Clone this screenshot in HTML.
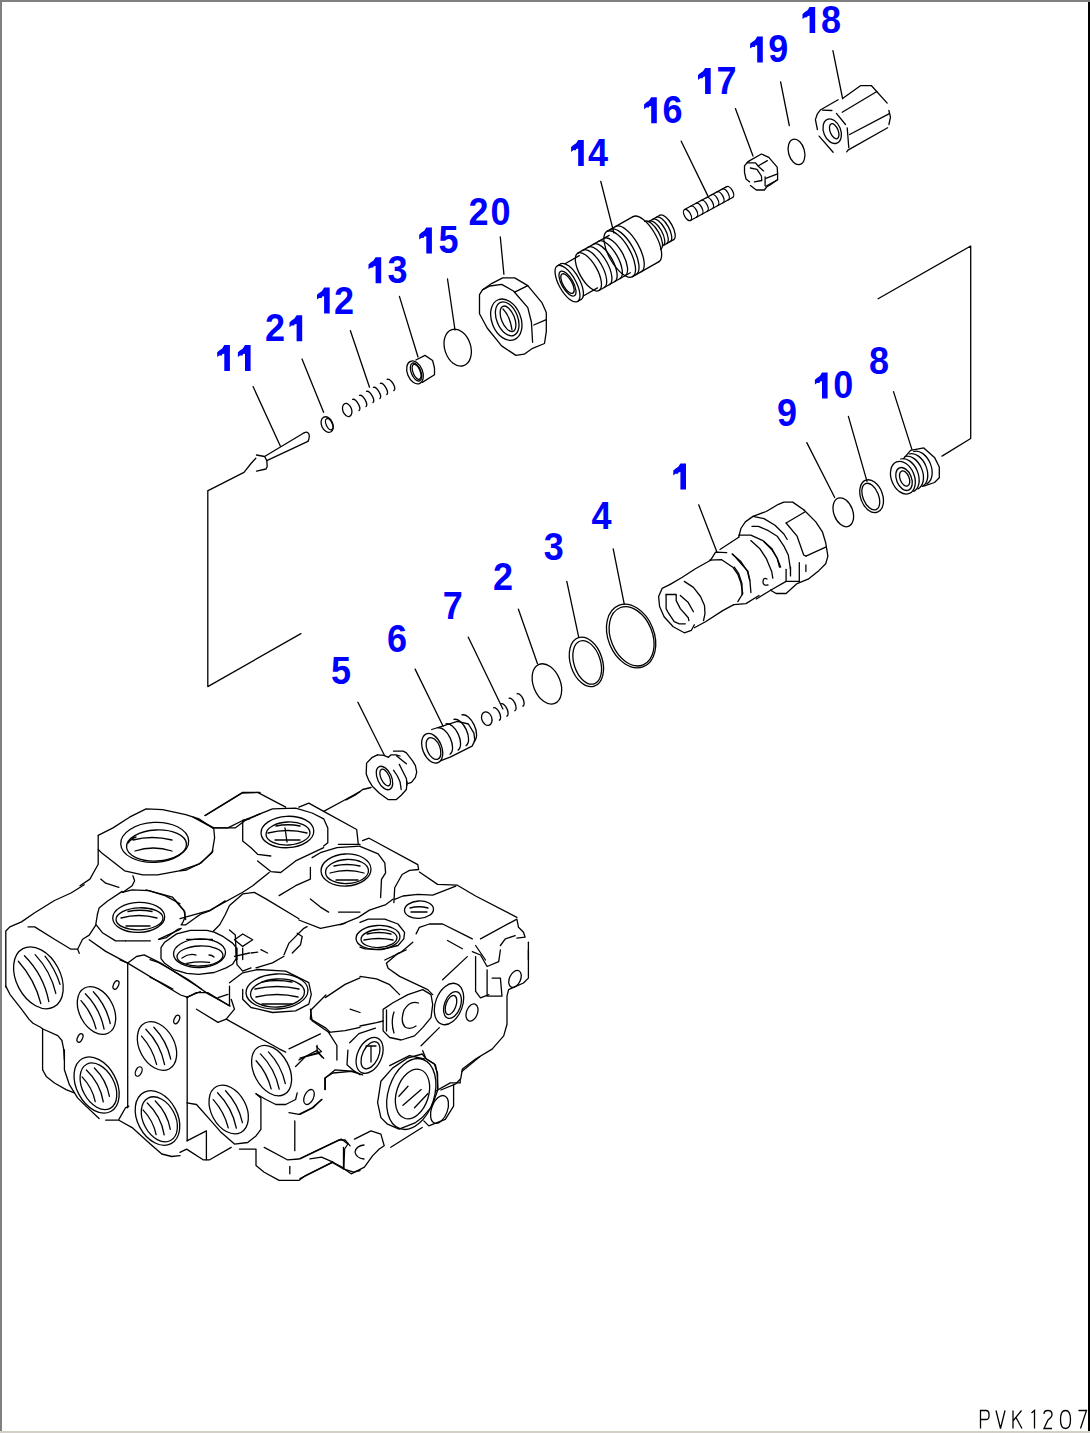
<!DOCTYPE html>
<html><head><meta charset="utf-8"><style>
html,body{margin:0;padding:0;background:#fff;}
.lb path{fill:#0000ff;stroke:none;}
.lb text{font-family:"Liberation Sans",sans-serif;font-weight:bold;font-size:36px;fill:#0000ff;}
.pv text{font-family:"Liberation Mono",monospace;font-size:20px;fill:#000;}
#w{position:relative;width:1090px;height:1433px;overflow:hidden;background:#fff;}
#w svg{position:absolute;left:0;top:0;}
.bt{position:absolute;left:0;top:0;width:1090px;height:2px;background:#808080;}
.bl{position:absolute;left:0;top:0;width:2px;height:1431px;background:#808080;}
.br{position:absolute;right:0;top:2px;width:2px;height:1429px;background:#000;}
.bb{position:absolute;left:0;bottom:0;width:1090px;height:2px;background:#d4d0c8;}
</style></head><body><div id="w">
<svg width="1090" height="1433" viewBox="0 0 1090 1433">
<g fill="none" stroke="#000" stroke-width="1.3" stroke-linejoin="round" stroke-linecap="round">
<polyline points="878.1,298.7 970.7,246.0 970.7,438.5 942.0,456.1"/>
<polyline points="207.8,490.9 207.8,686.6 300.9,633.6"/>
<line x1="832.9" y1="50.6" x2="842.6" y2="98.5"/>
<line x1="780.6" y1="81.9" x2="789.3" y2="125.5"/>
<line x1="735.4" y1="108.6" x2="753.0" y2="156.0"/>
<line x1="681.2" y1="141.2" x2="707.7" y2="195.6"/>
<line x1="600.8" y1="181.5" x2="613.9" y2="232.9"/>
<line x1="500.3" y1="237.0" x2="503.9" y2="274.3"/>
<line x1="447.5" y1="279.0" x2="455.0" y2="330.0"/>
<line x1="399.4" y1="296.4" x2="418.0" y2="357.0"/>
<line x1="350.4" y1="330.7" x2="369.5" y2="387.2"/>
<line x1="302.0" y1="359.0" x2="323.6" y2="412.3"/>
<line x1="253.1" y1="386.6" x2="280.3" y2="446.1"/>
<line x1="893.5" y1="391.6" x2="911.9" y2="449.4"/>
<line x1="848.4" y1="416.4" x2="867.0" y2="481.4"/>
<line x1="806.8" y1="442.6" x2="834.7" y2="497.5"/>
<line x1="698.7" y1="504.8" x2="717.1" y2="552.5"/>
<line x1="613.2" y1="548.9" x2="624.3" y2="604.4"/>
<line x1="566.8" y1="581.3" x2="578.7" y2="637.2"/>
<line x1="518.4" y1="609.2" x2="537.5" y2="663.8"/>
<line x1="468.3" y1="637.2" x2="502.9" y2="709.0"/>
<line x1="415.1" y1="669.1" x2="443.1" y2="726.3"/>
<line x1="357.9" y1="702.3" x2="384.5" y2="755.5"/>
<g transform="translate(567.5,283.6) rotate(-29.5)"><ellipse cx="0" cy="0" rx="8.40" ry="20.5"/><path d="M0.00,-20.5 L4,-20.5 M0.00,20.5 L4,20.5"/><path d="M4,-20.5 A8.40,20.5 0 0 1 4,20.5"/><path d="M7.62,-18.5 L24,-18.5 M7.62,18.5 L24,18.5"/><ellipse cx="24" cy="0" rx="8.81" ry="21.5"/><path d="M24.00,-21.5 L60,-21.5 M24.00,21.5 L60,21.5"/><path d="M30,-21.5 A8.81,21.5 0 0 1 30,21.5"/><path d="M36,-21.5 A8.81,21.5 0 0 1 36,21.5"/><path d="M42,-21.5 A8.81,21.5 0 0 1 42,21.5"/><path d="M48,-21.5 A8.81,21.5 0 0 1 48,21.5"/><path d="M54,-21.5 A8.81,21.5 0 0 1 54,21.5"/><ellipse cx="60" cy="0" rx="10.66" ry="26"/><path d="M60.00,-26 L90,-26 M60.00,26 L90,26"/><path d="M64,-26 A10.66,26 0 0 1 64,26"/><path d="M70,-26 A10.66,26 0 0 1 70,26"/><path d="M90,-26 A10.66,26 0 0 1 90,26"/><path d="M98.40,-16 L98,-16 M98.40,16 L98,16"/><path d="M98,-16 A6.56,16 0 0 1 98,16"/><path d="M101.18,-14 L114,-14 M101.18,14 L114,14"/><path d="M102,-14 A5.74,14 0 0 1 102,14"/><path d="M106,-14 A5.74,14 0 0 1 106,14"/><path d="M110,-14 A5.74,14 0 0 1 110,14"/><path d="M114,-14 A5.74,14 0 0 1 114,14"/><ellipse cx="0" cy="0" rx="5.74" ry="14"/><ellipse cx="0" cy="0" rx="4.51" ry="11"/></g>
<g transform="translate(687.5,215) rotate(-28.5)"><ellipse cx="0" cy="0" rx="3.10" ry="6.2"/><path d="M0.00,-6.2 L48,-6.2 M0.00,6.2 L48,6.2"/><path d="M7,-6.2 A3.10,6.2 0 0 1 7,6.2"/><path d="M13,-6.2 A3.10,6.2 0 0 1 13,6.2"/><path d="M19,-6.2 A3.10,6.2 0 0 1 19,6.2"/><path d="M25,-6.2 A3.10,6.2 0 0 1 25,6.2"/><path d="M31,-6.2 A3.10,6.2 0 0 1 31,6.2"/><path d="M37,-6.2 A3.10,6.2 0 0 1 37,6.2"/><path d="M43,-6.2 A3.10,6.2 0 0 1 43,6.2"/><path d="M48,-6.2 A3.10,6.2 0 0 1 48,6.2"/></g>
<polyline points="749.7,160.6 761.4,154.0 768.8,157.3 777.2,167.2 777.6,173.9 777.6,179.7 770.0,185.0 766.6,187.0 764.4,190.0 756.3,190.0 750.4,185.6"/>
<polyline points="749.7,181.9 746.0,179.0 744.5,172.4 744.5,165.8 747.5,162.1 749.7,160.6"/>
<polyline points="747.1,162.8 755.6,162.8 758.5,166.5 763.6,170.9"/>
<line x1="758.5" y1="165.8" x2="767.3" y2="160.6"/>
<line x1="765.1" y1="176.8" x2="765.1" y2="185.6"/>
<line x1="765.8" y1="178.3" x2="777.6" y2="173.9"/>
<line x1="765.8" y1="186.3" x2="777.6" y2="179.7"/>
<polyline points="750.4,168.0 757.0,169.4 761.4,176.0 761.8,180.5 754.4,181.9"/>
<ellipse cx="796.5" cy="151.9" rx="8.0" ry="13.0" transform="rotate(-15.0 796.5 151.9)"/>
<polyline points="842.6,98.5 860.4,85.7 871.5,85.7 887.2,103.1"/>
<line x1="876.9" y1="91.5" x2="842.2" y2="112.2"/>
<polyline points="888.9,110.5 890.5,117.1 888.9,124.5"/>
<line x1="888.9" y1="113.8" x2="849.6" y2="134.5"/>
<polyline points="887.6,127.8 848.0,150.1 846.7,151.8"/>
<line x1="847.2" y1="127.8" x2="848.8" y2="147.7"/>
<polyline points="838.1,99.8 820.7,109.7 817.4,113.8 815.4,119.6 817.4,129.5"/>
<polyline points="819.1,136.1 833.1,152.2"/>
<line x1="822.4" y1="110.1" x2="831.9" y2="110.5"/>
<line x1="836.4" y1="113.4" x2="845.5" y2="124.5"/>
<ellipse cx="832.2" cy="131.2" rx="8.5" ry="12.8" transform="rotate(-22.0 832.2 131.2)"/>
<ellipse cx="834.2" cy="131.2" rx="4.0" ry="8.0" transform="rotate(-22.0 834.2 131.2)"/>
<ellipse cx="546.9" cy="683.9" rx="13.5" ry="21.0" transform="rotate(-22.0 546.9 683.9)"/>
<ellipse cx="586.4" cy="661.9" rx="16.0" ry="25.5" transform="rotate(-18.0 586.4 661.9)"/>
<ellipse cx="587.2" cy="662.4" rx="13.2" ry="22.5" transform="rotate(-18.0 587.2 662.4)"/>
<ellipse cx="631.1" cy="636.0" rx="23.0" ry="33.0" transform="rotate(-22.0 631.1 636.0)"/>
<ellipse cx="631.6" cy="636.3" rx="20.8" ry="30.8" transform="rotate(-22.0 631.6 636.3)"/>
<ellipse cx="843.3" cy="512.3" rx="9.5" ry="15.0" transform="rotate(-20.0 843.3 512.3)"/>
<ellipse cx="871.6" cy="496.2" rx="11.0" ry="17.0" transform="rotate(-20.0 871.6 496.2)"/>
<ellipse cx="870.8" cy="496.6" rx="7.8" ry="14.0" transform="rotate(-22.0 870.8 496.6)"/>
<ellipse cx="902.9" cy="477.7" rx="11.5" ry="17.0" transform="rotate(-22.0 902.9 477.7)"/>
<ellipse cx="904.0" cy="479.0" rx="7.5" ry="12.0" transform="rotate(-22.0 904.0 479.0)"/>
<ellipse cx="904.6" cy="478.5" rx="4.5" ry="8.0" transform="rotate(-22.0 904.6 478.5)"/>
<path d="M900.7,459.0 A11.5,17.5 -22 0 1 913.8,491.4"/>
<path d="M905.0,456.5 A11.5,17.5 -22 0 1 918.1,488.9"/>
<path d="M909.3,454.0 A11.5,17.5 -22 0 1 922.4,486.4"/>
<path d="M913.7,451.5 A11.5,17.5 -22 0 1 926.8,483.9"/>
<polyline points="903.5,458.6 910.6,450.3 923.8,447.9 934.5,457.4 939.3,467.0 939.3,477.7 934.5,482.5 923.8,486.1"/>
<ellipse cx="486.8" cy="718.6" rx="5.0" ry="7.0" transform="rotate(-20.0 486.8 718.6)"/>
<path d="M493.6,707.8 A3.2,6.8 -25 0 1 499.4,720.2"/>
<path d="M501.1,703.8 A3.2,6.8 -25 0 1 506.9,716.2"/>
<path d="M509.1,698.3 A3.2,6.8 -25 0 1 514.9,710.7"/>
<path d="M517.1,693.8 A3.2,6.8 -25 0 1 522.9,706.2"/>
<ellipse cx="432.2" cy="748.3" rx="9.5" ry="15.5" transform="rotate(-22.0 432.2 748.3)"/>
<ellipse cx="433.5" cy="748.5" rx="6.5" ry="11.5" transform="rotate(-22.0 433.5 748.5)"/>
<polyline points="431.7,729.5 457.4,721.3 468.4,724.0 473.9,733.2 474.9,740.6 472.1,746.1 450.1,757.1 440.9,760.7"/>
<path d="M437.9,727.9 A7.5,14.5 -25 0 1 450.1,754.1"/>
<path d="M445.9,723.9 A7.5,14.5 -25 0 1 458.1,750.1"/>
<path d="M453.9,719.4 A7.5,14.5 -25 0 1 466.1,745.6"/>
<path d="M461.9,714.9 A7.5,14.5 -25 0 1 474.1,741.1"/>
<polyline points="377.5,754.8 372.3,757.3 366.6,763.1 366.2,774.0 368.5,779.8 372.3,786.2 379.4,793.3 388.4,799.7 396.1,799.7 401.2,795.2 406.4,789.5 407.0,781.7"/>
<polyline points="377.5,754.8 384.0,755.4 388.4,757.3 391.0,754.8 396.1,754.8 400.0,756.0"/>
<polyline points="393.5,751.2 403.2,751.2 406.4,752.8 412.8,761.2 415.4,765.7 416.7,772.1 415.4,777.3 411.5,782.4 407.7,783.7"/>
<ellipse cx="384.5" cy="778.0" rx="7.0" ry="12.5" transform="rotate(-25.0 384.5 778.0)"/>
<ellipse cx="385.2" cy="777.5" rx="4.2" ry="9.0" transform="rotate(-25.0 385.2 777.5)"/>
<polyline points="393.5,770.2 397.4,776.0 400.0,781.7 401.2,789.5"/>
<polyline points="399.3,764.4 402.5,770.8 406.4,778.5 407.0,785.0"/>
<polyline points="396.7,756.0 406.4,763.8"/>
<polyline points="346.0,800.0 355.0,795.2 362.7,789.5 371.0,787.5"/>
<polyline points="670.2,584.4 662.1,588.4 658.6,596.5 659.6,606.6 664.1,616.7 673.2,626.8 684.3,632.8 691.4,630.3 694.4,624.8"/>
<polyline points="670.2,584.4 682.3,577.3 695.4,568.8 710.6,560.2"/>
<polyline points="684.3,581.4 693.4,587.4 700.5,596.5 704.5,605.6 705.0,613.7 703.5,620.7"/>
<polyline points="694.4,627.8 705.5,621.7 722.7,610.6 733.8,604.6"/>
<polyline points="666.1,594.5 676.2,594.5 676.2,600.6 680.3,608.6 688.3,617.7 688.9,620.7"/>
<polyline points="666.1,594.5 666.1,608.6 668.2,612.7 674.2,621.7 679.3,623.8 685.3,623.8"/>
<polyline points="680.3,595.5 688.3,602.6 693.4,611.7"/>
<polyline points="709.5,560.2 721.7,559.7 732.8,567.2 737.8,574.3 740.8,582.4 742.8,593.5 737.8,601.6"/>
<polyline points="710.6,560.2 715.6,552.1 726.7,552.6"/>
<polyline points="732.8,554.1 740.8,563.2 747.9,571.3 749.9,580.4 750.9,592.5"/>
<polyline points="733.8,604.6 745.9,603.6 759.0,595.5"/>
<polyline points="720.0,549.5 738.7,537.3"/>
<polyline points="738.7,537.3 740.9,528.5 745.3,521.9 753.0,516.4 766.2,511.5 778.4,504.3 783.9,502.1 792.7,502.1 803.7,509.8"/>
<polyline points="803.7,509.8 815.8,521.9 822.4,531.8 825.7,542.8 827.9,556.1 825.7,563.8 819.1,570.4 808.1,579.2 797.1,583.6 786.1,593.5 776.1,593.5 770.6,590.2"/>
<polyline points="786.1,523.0 804.8,512.0"/>
<polyline points="805.9,556.1 825.7,547.2"/>
<polyline points="786.1,523.0 797.1,536.2 803.7,555.0 805.9,556.1"/>
<polyline points="753.0,516.4 764.0,518.6 775.0,525.2 783.9,534.0 787.2,539.5"/>
<polyline points="751.9,526.3 758.5,526.3 768.4,530.7 777.2,536.2 783.9,546.1 788.3,555.0 790.5,569.3"/>
<polyline points="738.7,535.1 750.8,535.1 762.9,540.6 771.7,548.4 777.2,558.3 780.6,567.1"/>
<polyline points="750.8,540.6 759.6,548.4 766.2,558.3 771.7,571.5 772.8,578.1"/>
<polyline points="764.0,541.7 771.7,549.5 777.2,558.3 779.5,567.1"/>
<polyline points="799.3,562.7 799.3,581.4"/>
<polyline points="805.9,564.9 805.9,571.5"/>
<polyline points="790.5,567.1 790.5,575.9"/>
<polyline points="786.1,569.3 786.1,581.4"/>
<polyline points="770.6,590.2 786.1,581.4 799.3,581.4"/>
<polyline points="756.3,599.0 770.6,590.2"/>
<polyline points="732.1,553.9 740.9,561.6 747.5,571.5 749.7,580.3"/>
<polyline points="734.3,567.1 738.7,573.7 742.0,583.6 742.0,594.6"/>
<path d="M767,579 Q763,577 763,582 Q763,586 768,585"/>
<polyline points="98.2,835.3 113.0,827.9 129.5,817.2 146.1,808.9 162.6,809.7 185.7,814.7 198.9,818.8 213.8,828.7 214.6,837.8 212.1,852.7 198.9,864.2 179.1,870.8 157.6,874.9 142.7,874.9 124.6,870.8 101.5,852.7 98.2,849.4"/>
<polyline points="98.2,835.3 98.2,864.2 89.9,879.1 80.0,885.7"/>
<polyline points="84.2,884.8 71.0,893.0 54.5,900.5 34.7,912.8 21.5,921.9 9.9,926.9 5.8,931.0 5.8,987.1"/>
<ellipse cx="154.7" cy="842.4" rx="34.0" ry="20.0" transform="rotate(-3.0 154.7 842.4)"/>
<ellipse cx="156.5" cy="845.5" rx="30.0" ry="15.5" transform="rotate(-3.0 156.5 845.5)"/>
<path d="M133,840 Q152,835 172,840 M135,851 Q153,845 172,851 M128,843 Q132,838 136,837"/>
<polyline points="193.9,817.2 213.8,827.9 235.2,827.9 245.1,820.5 260.0,813.9"/>
<polyline points="205.5,815.5 241.8,793.2 260.0,792.4"/>
<polyline points="122.2,892.3 132.1,889.8 148.6,890.6 165.1,895.6 180.0,903.8"/>
<polyline points="146.1,889.8 172.5,897.2 184.0,910.4 185.7,919.5"/>
<polyline points="97.4,914.5 99.1,907.9 107.3,901.3 122.2,891.4"/>
<polyline points="97.4,914.5 95.8,924.4 102.4,932.7 115.6,940.9 125.5,940.9"/>
<polyline points="125.5,940.9 150.3,940.9"/>
<polyline points="158.5,939.3 180.0,929.4"/>
<ellipse cx="138.7" cy="917.4" rx="26.0" ry="15.0" transform="rotate(-2.0 138.7 917.4)"/>
<ellipse cx="139.5" cy="918.8" rx="23.5" ry="11.0" transform="rotate(-2.0 139.5 918.8)"/>
<path d="M128,911.5 Q140,909 152,911.5 M121,918 Q139,913 157,918 M126,926 L150,926"/>
<polyline points="132.9,875.8 134.6,880.7 132.1,885.7 123.0,892.3"/>
<polyline points="100.7,879.1 105.7,883.2 118.9,887.3"/>
<polyline points="28.1,926.9 34.7,926.9 54.5,939.3 71.0,949.2 77.6,949.2 82.6,939.3 89.2,935.1 95.8,925.2"/>
<polyline points="77.6,949.2 79.3,953.3"/>
<polyline points="89.2,939.8 105.7,951.4 127.7,963.1 180.6,995.0 187.2,997.2"/>
<polyline points="120.0,959.8 127.7,963.1 136.5,956.5 144.2,954.9 160.7,963.1 172.8,970.8 197.1,986.2 208.1,993.9 230.1,1006.0"/>
<polyline points="187.2,997.2 197.1,992.8 200.4,991.7"/>
<line x1="127.7" y1="963.1" x2="127.7" y2="1107.8"/>
<line x1="187.2" y1="997.2" x2="187.2" y2="1140.8"/>
<g transform="translate(38.4,977.8) rotate(62)"><ellipse cx="0" cy="0" rx="33" ry="22"/><path d="M-22,-8 Q0,-14 22,-8 M-26,2 Q0,-6 26,2 M-24,10 Q0,4 24,10 M-16,-16 Q0,-19 16,-16"/></g>
<polyline points="5.8,986.1 9.9,994.3 21.5,1009.2 28.9,1019.1 33.0,1023.2 40.5,1027.3 42.9,1029.0 57.8,1035.6 61.9,1040.5 63.6,1048.8 64.4,1060.0"/>
<line x1="42.6" y1="1029.0" x2="42.6" y2="1069.8"/>
<polyline points="42.6,1069.8 46.2,1076.4 54.5,1083.0 66.1,1089.6 74.3,1092.9"/>
<polyline points="64.4,1050.0 64.4,1069.8 69.4,1084.7 77.6,1097.9 85.9,1106.1 99.1,1118.5"/>
<polyline points="105.7,1120.2 118.9,1120.2 132.1,1127.6 148.6,1142.5 161.8,1154.0 171.7,1156.5 180.0,1155.7"/>
<polyline points="118.9,1119.4 125.5,1107.8 128.8,1106.1"/>
<g transform="translate(96.5,1010.5) rotate(62)"><ellipse cx="0" cy="0" rx="25.5" ry="17"/><path d="M-18,-6 Q0,-11 18,-6 M-20,2 Q0,-4 20,2 M-16,9 Q0,5 16,9"/></g>
<g transform="translate(96.6,1085) rotate(62)"><ellipse cx="0" cy="0" rx="30" ry="20"/><ellipse cx="2" cy="-1" rx="25" ry="16"/><path d="M-16,-6 Q0,-11 16,-6 M-18,2 Q0,-4 18,2 M-14,9 Q0,5 14,9"/></g>
<g transform="translate(157,1046) rotate(62)"><ellipse cx="0" cy="0" rx="26" ry="17.5"/><path d="M-18,-6 Q0,-11 18,-6 M-20,2 Q0,-4 20,2 M-16,9 Q0,5 16,9"/></g>
<g transform="translate(157.5,1118) rotate(62)"><ellipse cx="0" cy="0" rx="29" ry="20"/><ellipse cx="2" cy="-1" rx="24" ry="16"/><path d="M-16,-6 Q0,-11 16,-6 M-18,2 Q0,-4 18,2 M-14,9 Q0,5 14,9"/></g>
<g transform="translate(271.6,1070.6) rotate(62)"><ellipse cx="0" cy="0" rx="27" ry="17.5"/><path d="M-18,-6 Q0,-11 18,-6 M-20,2 Q0,-4 20,2 M-16,9 Q0,5 16,9"/></g>
<g transform="translate(228.7,1109.5) rotate(62)"><ellipse cx="0" cy="0" rx="26" ry="17.5"/><path d="M-18,-6 Q0,-11 18,-6 M-20,2 Q0,-4 20,2 M-16,9 Q0,5 16,9"/></g>
<ellipse cx="116.0" cy="985.0" rx="2.5" ry="4.5" transform="rotate(25.0 116.0 985.0)"/>
<ellipse cx="80.0" cy="1038.0" rx="2.5" ry="4.5" transform="rotate(25.0 80.0 1038.0)"/>
<ellipse cx="176.7" cy="1019.5" rx="2.5" ry="4.5" transform="rotate(25.0 176.7 1019.5)"/>
<ellipse cx="138.7" cy="1071.5" rx="3.0" ry="5.0" transform="rotate(25.0 138.7 1071.5)"/>
<ellipse cx="309.0" cy="1097.0" rx="4.5" ry="8.0" transform="rotate(25.0 309.0 1097.0)"/>
<polyline points="186.9,1102.8 196.5,1104.5 209.7,1119.4 221.3,1132.6 234.5,1144.1 247.7,1142.5 256.0,1135.9 260.9,1129.3 260.9,1097.9 256.0,1093.8"/>
<polyline points="186.9,1140.8 206.4,1130.9 206.4,1159.8"/>
<polyline points="180.0,1152.4 186.6,1149.1 203.1,1159.8 209.7,1159.8 231.2,1147.4"/>
<polyline points="239.4,1149.1 256.0,1149.1 256.0,1165.6 264.2,1172.2 279.1,1180.4 298.9,1180.4 305.5,1175.5 331.9,1162.3 343.5,1168.9 353.4,1172.2 360.0,1170.5"/>
<polyline points="264.2,1147.4 287.3,1159.8 298.9,1159.0 338.5,1140.0 345.1,1140.0 350.1,1145.8"/>
<polyline points="289.8,1166.4 289.8,1173.8"/>
<polyline points="294.8,1121.0 294.8,1150.7"/>
<polyline points="256.0,1093.8 265.9,1099.5 275.8,1104.5 285.7,1104.5 295.6,1099.5 297.2,1092.9"/>
<polyline points="295.6,1066.5 305.5,1056.6 318.7,1053.3 323.7,1058.3"/>
<polyline points="325.3,1089.6 325.3,1078.1 335.2,1069.8 355.0,1071.5 360.0,1074.8"/>
<polyline points="289.0,1112.7 298.9,1114.4 312.1,1107.8 322.0,1099.5"/>
<polyline points="343.5,1147.4 343.5,1168.9"/>
<polyline points="204.8,815.5 242.7,792.4 257.6,792.4 285.7,807.2"/>
<polyline points="193.2,817.2 213.0,827.9 227.9,827.9 242.7,820.5 249.4,818.8"/>
<polyline points="242.7,820.5 249.4,818.0 272.5,808.9 295.6,808.1 312.1,813.0 323.7,818.8 327.8,827.9 327.8,842.7 323.7,846.1"/>
<polyline points="242.7,820.5 242.7,841.1 251.0,847.7 257.6,854.3 270.8,856.0"/>
<polyline points="213.0,851.0 201.5,862.6 186.6,870.0 180.0,870.8"/>
<polyline points="298.9,807.2 308.8,803.1 323.7,811.4 356.7,829.5 358.3,844.4"/>
<polyline points="323.7,811.4 345.1,799.8 360.0,791.6"/>
<polyline points="338.5,844.4 360.0,844.4"/>
<polyline points="257.6,860.9 270.8,871.6 280.7,872.5 295.6,860.9 323.7,847.7"/>
<ellipse cx="287.4" cy="832.0" rx="26.4" ry="15.7" transform="rotate(-3.0 287.4 832.0)"/>
<ellipse cx="288.0" cy="833.5" rx="22.0" ry="11.5" transform="rotate(-3.0 288.0 833.5)"/>
<path d="M276,826 Q288,823.5 300,826 M268,833 Q288,828 307,833 M275,840 L300,840 M285,828 L287,842"/>
<polyline points="312.1,857.6 320.4,852.7 336.9,847.7 360.0,846.1"/>
<polyline points="310.4,867.5 310.4,879.1 295.6,885.7 279.1,895.6"/>
<polyline points="362.5,840.6 369.1,838.2 417.8,864.6 418.6,869.5 409.5,870.4 402.1,874.5 394.7,887.7 393.9,902.6"/>
<polyline points="360.0,846.4 378.2,853.9 384.8,862.9 385.6,872.8 381.5,879.4 380.6,897.6"/>
<ellipse cx="346.0" cy="870.0" rx="25.0" ry="16.0" transform="rotate(-3.0 346.0 870.0)"/>
<ellipse cx="347.0" cy="871.5" rx="21.5" ry="12.0" transform="rotate(-3.0 347.0 871.5)"/>
<path d="M334,866 Q347,863 360,866 M330,873 Q347,868 364,873 M336,880 L358,880"/>
<polyline points="180.0,918.7 209.7,910.4 242.7,892.3 252.7,885.7 269.2,872.5"/>
<polyline points="310.4,898.9 320.4,907.1 328.6,912.1"/>
<polyline points="338.5,912.1 360.0,912.1"/>
<polyline points="161.0,947.7 164.7,942.2 176.6,933.9 190.4,930.3 206.9,930.3 214.2,932.1 223.4,936.7 232.6,943.1 236.2,947.7 236.2,958.7 232.6,964.2 226.1,967.9 214.2,972.5 198.6,974.3 186.7,973.4 173.9,969.7 164.7,963.3 161.0,958.7 161.0,947.7"/>
<ellipse cx="199.5" cy="953.2" rx="26.0" ry="14.3" transform="rotate(-2.0 199.5 953.2)"/>
<ellipse cx="200.0" cy="956.0" rx="23.0" ry="10.0" transform="rotate(-2.0 200.0 956.0)"/>
<path d="M186.7,939.4 L212.4,939.4 M182,958 Q189,953 196,955 M209,955 Q212,955 214,957 M186.7,963.3 Q199,961 209.6,962.4"/>
<polyline points="174.8,900.0 184.9,911.9 184.9,917.4 183.0,922.0 181.2,924.8 185.8,924.8 195.9,917.4 201.4,913.8 209.6,911.0 217.9,905.5 225.2,900.9"/>
<polyline points="159.2,939.4 166.5,937.6 177.5,929.4 181.2,928.4"/>
<polyline points="213.3,931.2 219.7,924.8 225.2,914.7 229.5,905.5 242.7,893.9 254.3,892.3 265.9,898.9 298.9,918.7"/>
<polyline points="150.0,959.6 158.3,962.4 166.5,967.0 177.5,973.4 188.5,979.8 201.4,989.0"/>
<polyline points="150.0,977.1 161.0,982.6 172.9,989.0"/>
<polyline points="419.4,872.0 437.6,884.4 457.4,885.2 475.6,896.0 516.9,917.4"/>
<polyline points="394.7,899.3 402.9,896.0 417.8,894.3 432.7,895.1 447.5,889.4 455.8,886.1"/>
<ellipse cx="419.0" cy="909.7" rx="14.5" ry="8.7" transform="rotate(-3.0 419.0 909.7)"/>
<path d="M410,908 Q419,905.5 428,908 M411,912 L427,912"/>
<polyline points="360.0,922.4 368.3,919.1 384.8,919.1 398.0,924.0 404.6,932.3 403.8,938.9 398.0,945.5 381.5,949.6 365.0,948.8 360.0,947.1"/>
<ellipse cx="378.0" cy="937.5" rx="22.0" ry="12.0" transform="rotate(-3.0 378.0 937.5)"/>
<ellipse cx="379.0" cy="938.5" rx="18.0" ry="9.0" transform="rotate(-3.0 379.0 938.5)"/>
<path d="M367,934 Q379,931 391,934 M364,940 Q379,937 393,940"/>
<polyline points="416.1,933.9 419.4,927.3 429.4,924.0 442.6,924.0 462.4,933.9 472.3,938.9"/>
<polyline points="480.5,938.9 516.9,919.1 518.5,927.3 523.5,932.3 525.1,937.2 516.9,938.1"/>
<polyline points="528.4,942.2 528.4,960.0"/>
<polyline points="500.4,945.5 505.3,938.9 515.2,935.6"/>
<polyline points="447.5,940.5 462.4,948.8"/>
<polyline points="475.6,945.5 485.5,960.0"/>
<polyline points="340.0,924.8 358.3,917.4 369.4,910.1 385.9,904.6 393.2,899.1"/>
<polyline points="384.8,960.0 401.3,952.1 412.8,942.2"/>
<polyline points="528.4,950.0 528.4,978.1 523.5,983.0 508.6,989.6 507.0,996.2 507.0,1024.3 503.7,1035.9 492.1,1049.1 475.6,1059.0 462.4,1068.9 460.7,1078.8 455.8,1083.8 440.9,1090.0"/>
<ellipse cx="515.0" cy="978.9" rx="5.5" ry="9.0" transform="rotate(25.0 515.0 978.9)"/>
<polyline points="475.6,956.6 475.6,991.3"/>
<polyline points="487.1,969.8 487.1,996.2 502.0,996.2 500.4,978.1 492.1,978.1"/>
<polyline points="475.6,991.3 480.5,997.9 488.8,994.6"/>
<polyline points="472.3,951.7 480.5,955.0 487.1,966.5 498.7,961.6 500.4,950.0"/>
<polyline points="406.2,950.0 398.0,953.3 386.4,963.2 388.1,968.2 399.6,976.4 427.7,989.6 432.7,994.6"/>
<polyline points="383.1,1009.4 393.0,1002.8 407.9,994.6 422.7,989.6 431.0,994.6 432.7,1004.5 431.0,1017.7 422.7,1027.6 414.5,1035.9 401.3,1040.0 389.7,1037.5 383.1,1030.9 383.1,1009.4"/>
<path d="M418.5,1003 Q410,1000 404,1010 Q400,1022 405,1027 Q410,1030 416,1026"/>
<ellipse cx="452.5" cy="1005.0" rx="8.0" ry="14.0" transform="rotate(20.0 452.5 1005.0)"/>
<ellipse cx="451.0" cy="1005.0" rx="5.0" ry="10.0" transform="rotate(20.0 451.0 1005.0)"/>
<ellipse cx="472.0" cy="1012.5" rx="5.5" ry="9.0" transform="rotate(20.0 472.0 1012.5)"/>
<polyline points="360.0,976.4 376.5,978.9 389.7,984.7 399.6,994.6"/>
<polyline points="360.0,1026.0 376.5,1022.7 383.1,1021.0"/>
<polyline points="421.1,1045.8 439.3,1027.6"/>
<polyline points="442.6,979.7 467.3,956.6"/>
<polyline points="422.7,1050.7 426.1,1059.0 434.3,1063.9 437.6,1073.8 437.6,1090.0"/>
<polyline points="389.7,1065.6 409.5,1055.7 424.4,1059.0"/>
<ellipse cx="369.6" cy="1055.4" rx="12.0" ry="19.0" transform="rotate(25.0 369.6 1055.4)"/>
<ellipse cx="370.5" cy="1055.2" rx="8.0" ry="14.5" transform="rotate(25.0 370.5 1055.2)"/>
<path d="M366,1046 L376,1046 M371,1046 L371,1062"/>
<polyline points="377.6,1102.7 380.9,1081.3 392.5,1068.1 407.3,1058.2 422.2,1054.0 425.5,1058.2 435.4,1064.8 437.1,1073.0 437.9,1089.5 432.1,1106.1 422.2,1117.6 415.6,1122.6 399.1,1129.2 387.5,1124.2 380.9,1117.6 377.6,1102.7"/>
<ellipse cx="411.3" cy="1094.0" rx="23.0" ry="36.5" transform="rotate(18.0 411.3 1094.0)"/>
<ellipse cx="412.5" cy="1094.0" rx="16.0" ry="25.5" transform="rotate(18.0 412.5 1094.0)"/>
<path d="M398.9,1096.2 L408,1086.3 M403,1105.3 L421.2,1089.6 M414.5,1107.8 L428,1093.5"/>
<ellipse cx="439.5" cy="1109.4" rx="8.0" ry="14.5" transform="rotate(20.0 439.5 1109.4)"/>
<polyline points="435.4,1091.2 450.3,1082.9 460.2,1082.9 460.2,1079.6"/>
<polyline points="453.6,1084.6 453.6,1106.1 445.3,1119.3 428.8,1125.9 423.8,1120.9"/>
<polyline points="461.8,1071.4 480.0,1056.5"/>
<polyline points="390.8,1147.3 422.2,1127.5"/>
<polyline points="324.8,1089.5 324.8,1078.0 333.0,1073.0 351.2,1071.4 356.1,1073.0"/>
<polyline points="300.0,1114.3 313.2,1107.7 321.5,1099.4"/>
<polyline points="300.0,1058.2 321.5,1051.6 316.5,1046.6"/>
<polyline points="300.0,1158.9 341.3,1139.1 347.9,1144.0 344.6,1149.0 343.8,1168.8 351.2,1173.8 364.4,1167.1 372.7,1155.6 379.3,1149.0 384.2,1145.7 380.9,1134.1 371.0,1130.8 354.5,1139.1"/>
<polyline points="300.0,1178.7 333.0,1162.2 343.8,1168.0"/>
<polyline points="309.9,1158.9 321.5,1157.2 333.0,1162.2"/>
<path d="M364,1145 Q356,1146 355,1152 Q356,1158 364,1159"/>
<polyline points="229.5,982.7 242.7,972.8 257.6,969.5 285.7,971.2 308.8,982.7 311.3,994.3 308.8,1004.2 295.6,1010.8 272.5,1012.5 251.0,1007.5 242.7,999.3 242.7,989.4"/>
<ellipse cx="277.0" cy="991.5" rx="31.0" ry="17.5" transform="rotate(-3.0 277.0 991.5)"/>
<ellipse cx="277.5" cy="993.0" rx="27.0" ry="14.0" transform="rotate(-3.0 277.5 993.0)"/>
<path d="M262,982 Q277,979 292,982 M255,989 Q277,984 299,989 M256,997 Q277,992 298,997 M262,1004 L292,1004"/>
<polyline points="229.5,929.9 235.3,934.9 236.1,953.0 237.0,964.6 242.7,971.2 251.0,967.9"/>
<polyline points="234.5,939.8 242.7,934.0 252.7,939.8 242.7,946.4 234.5,939.8"/>
<polyline points="237.0,948.1 237.0,959.6"/>
<polyline points="242.7,948.1 242.7,959.6"/>
<polyline points="234.5,956.3 249.4,953.0"/>
<polyline points="251.0,953.0 257.6,952.2"/>
<polyline points="260.9,949.7 267.5,953.0"/>
<polyline points="284.0,954.7 289.0,943.1 303.8,928.3 307.1,926.6"/>
<polyline points="292.3,953.0 300.5,944.8 302.2,936.5 297.2,933.2"/>
<polyline points="298.9,920.0 320.4,928.3 345.1,923.3"/>
<polyline points="256.0,967.9 272.5,962.9 284.0,956.3"/>
<polyline points="186.6,997.6 196.5,992.7 208.1,992.7 229.5,1005.9 229.5,986.1"/>
<polyline points="218.0,997.6 227.9,994.3"/>
<polyline points="196.5,1009.2 218.0,1022.4 226.2,1019.1 234.5,1009.2 231.2,999.3"/>
<polyline points="226.2,1019.1 279.1,1048.8 285.7,1052.1"/>
<polyline points="289.0,1048.8 320.4,1033.9"/>
<polyline points="310.4,1009.2 312.1,1020.7 328.6,1032.3 336.9,1045.5 336.9,1060.0"/>
<polyline points="325.3,997.6 345.1,984.4 360.0,977.8"/>
<polyline points="328.6,1032.3 345.1,1030.6 360.0,1027.3"/>
<polyline points="350.1,1009.2 360.0,1012.5"/>
<polyline points="298.9,1060.0 317.1,1050.4 322.0,1057.1"/>
<polyline points="317.1,1045.5 317.1,1052.1"/>
<polyline points="325.9,995.0 311.2,1009.7 310.3,1018.9 325.9,1028.1 329.5,1031.7"/>
<ellipse cx="449.0" cy="1004.0" rx="13.5" ry="21.5" transform="rotate(20.0 449.0 1004.0)"/>
<polyline points="349.7,1042.8 358.9,1033.6 375.4,1028.1"/>
<polyline points="347.9,1050.1 347.0,1064.8 355.2,1072.1 362.6,1074.9"/>
<path d="M394,1012 Q390.5,1022 394,1033"/>
<path d="M386.5,1010 L386.5,1031"/>
<polyline points="208.1,490.6 244.0,472.3 251.0,463.5 255.8,458.3"/>
<polyline points="256.5,455.0 264.6,456.5 266.8,460.6 267.2,466.4 266.0,469.0 256.5,471.2"/>
<line x1="264.6" y1="456.5" x2="304.2" y2="432.8"/>
<path d="M304.2,432.8 C307,431.2 309.6,433.2 309.3,436.5 C309.1,438.8 308.6,440.4 307.9,441.3"/>
<line x1="266.8" y1="460.6" x2="307.9" y2="441.3"/>
<ellipse cx="327.2" cy="424.6" rx="5.6" ry="8.2" transform="rotate(-25.0 327.2 424.6)"/>
<ellipse cx="329.2" cy="424.2" rx="3.0" ry="6.0" transform="rotate(-25.0 329.2 424.2)"/>
<ellipse cx="347.2" cy="410.0" rx="4.4" ry="6.8" transform="rotate(-20.0 347.2 410.0)"/>
<path d="M352.6,399.4 A2.9,6.5 -30 0 1 359.1,410.6"/>
<path d="M359.5,395.4 A2.9,6.5 -30 0 1 366.0,406.6"/>
<path d="M366.5,391.4 A2.9,6.5 -30 0 1 373.0,402.6"/>
<path d="M373.4,387.4 A2.9,6.5 -30 0 1 379.9,398.6"/>
<path d="M380.3,383.4 A2.9,6.5 -30 0 1 386.8,394.6"/>
<path d="M387.2,379.4 A2.9,6.5 -30 0 1 393.8,390.6"/>
<ellipse cx="415.0" cy="372.4" rx="7.6" ry="12.0" transform="rotate(-22.0 415.0 372.4)"/>
<ellipse cx="416.0" cy="372.0" rx="4.8" ry="9.5" transform="rotate(-22.0 416.0 372.0)"/>
<ellipse cx="416.6" cy="371.8" rx="3.6" ry="8.0" transform="rotate(-22.0 416.6 371.8)"/>
<polyline points="415.9,360.0 425.0,355.4 432.6,360.5 434.5,368.0 434.5,374.7 422.3,382.4"/>
<ellipse cx="457.7" cy="347.6" rx="13.0" ry="19.0" transform="rotate(-18.0 457.7 347.6)"/>
<polyline points="482.5,289.8 479.5,294.6 479.5,313.7 487.2,328.0 501.6,345.9 515.9,355.4 524.2,354.2 532.6,348.3 544.5,343.5 546.3,331.6 546.3,312.5 542.1,302.9 527.8,285.6 514.7,277.9 502.7,277.9 492.0,283.3 482.5,289.8"/>
<polyline points="482.5,289.8 490.0,286.0 501.6,284.4 513.5,291.0 527.8,307.7 531.4,322.0 532.6,342.3"/>
<line x1="514.7" y1="292.2" x2="527.8" y2="285.6"/>
<line x1="533.8" y1="325.0" x2="546.3" y2="319.6"/>
<ellipse cx="506.3" cy="319.7" rx="14.5" ry="21.5" transform="rotate(-22.0 506.3 319.7)"/>
<ellipse cx="507.2" cy="318.8" rx="10.5" ry="17.8" transform="rotate(-22.0 507.2 318.8)"/>
<ellipse cx="508.0" cy="318.8" rx="6.5" ry="13.5" transform="rotate(-22.0 508.0 318.8)"/>
<path d="M503,309 Q510,316 512,330"/>
</g>
<g class="lb">
<path transform="translate(802.5,7.0)" d="M7.1,0 H12.7 V26 H7.1 V8.7 L5.1,9 L4.7,10.3 L2.1,10.4 L0,12 V7.2 L2,5.3 L5,3.3 Z"/>
<text transform="translate(820.9,32.6) scale(1,1.06)">8</text>
<path transform="translate(750.1,36.6)" d="M7.1,0 H12.7 V26 H7.1 V8.7 L5.1,9 L4.7,10.3 L2.1,10.4 L0,12 V7.2 L2,5.3 L5,3.3 Z"/>
<text transform="translate(768.3,62.2) scale(1,1.06)">9</text>
<path transform="translate(698.0,67.9)" d="M7.1,0 H12.7 V26 H7.1 V8.7 L5.1,9 L4.7,10.3 L2.1,10.4 L0,12 V7.2 L2,5.3 L5,3.3 Z"/>
<text transform="translate(716.6,93.9) scale(1,1.06)">7</text>
<path transform="translate(644.1,97.2)" d="M7.1,0 H12.7 V26 H7.1 V8.7 L5.1,9 L4.7,10.3 L2.1,10.4 L0,12 V7.2 L2,5.3 L5,3.3 Z"/>
<text transform="translate(662.5,122.8) scale(1,1.06)">6</text>
<path transform="translate(571.1,139.9)" d="M7.1,0 H12.7 V26 H7.1 V8.7 L5.1,9 L4.7,10.3 L2.1,10.4 L0,12 V7.2 L2,5.3 L5,3.3 Z"/>
<text transform="translate(588.0,165.9) scale(1,1.06)">4</text>
<text transform="translate(468.4,224.9) scale(1,1.06)">2</text>
<text transform="translate(490.6,224.5) scale(1,1.06)">0</text>
<path transform="translate(419.2,227.5)" d="M7.1,0 H12.7 V26 H7.1 V8.7 L5.1,9 L4.7,10.3 L2.1,10.4 L0,12 V7.2 L2,5.3 L5,3.3 Z"/>
<text transform="translate(438.4,253.1) scale(1,1.06)">5</text>
<path transform="translate(368.5,257.3)" d="M7.1,0 H12.7 V26 H7.1 V8.7 L5.1,9 L4.7,10.3 L2.1,10.4 L0,12 V7.2 L2,5.3 L5,3.3 Z"/>
<text transform="translate(387.6,282.9) scale(1,1.06)">3</text>
<path transform="translate(317.0,287.6)" d="M7.1,0 H12.7 V26 H7.1 V8.7 L5.1,9 L4.7,10.3 L2.1,10.4 L0,12 V7.2 L2,5.3 L5,3.3 Z"/>
<text transform="translate(333.9,313.6) scale(1,1.06)">2</text>
<text transform="translate(265.0,341.2) scale(1,1.06)">2</text>
<path transform="translate(289.5,315.2)" d="M7.1,0 H12.7 V26 H7.1 V8.7 L5.1,9 L4.7,10.3 L2.1,10.4 L0,12 V7.2 L2,5.3 L5,3.3 Z"/>
<path transform="translate(217.2,345.1)" d="M7.1,0 H12.7 V26 H7.1 V8.7 L5.1,9 L4.7,10.3 L2.1,10.4 L0,12 V7.2 L2,5.3 L5,3.3 Z"/>
<path transform="translate(237.9,345.1)" d="M7.1,0 H12.7 V26 H7.1 V8.7 L5.1,9 L4.7,10.3 L2.1,10.4 L0,12 V7.2 L2,5.3 L5,3.3 Z"/>
<text transform="translate(868.9,373.6) scale(1,1.06)">8</text>
<path transform="translate(814.9,372.6)" d="M7.1,0 H12.7 V26 H7.1 V8.7 L5.1,9 L4.7,10.3 L2.1,10.4 L0,12 V7.2 L2,5.3 L5,3.3 Z"/>
<text transform="translate(833.3,398.2) scale(1,1.06)">0</text>
<text transform="translate(777.0,425.5) scale(1,1.06)">9</text>
<path transform="translate(673.3,463.4)" d="M7.1,0 H12.7 V26 H7.1 V8.7 L5.1,9 L4.7,10.3 L2.1,10.4 L0,12 V7.2 L2,5.3 L5,3.3 Z"/>
<text transform="translate(591.5,529.1) scale(1,1.06)">4</text>
<text transform="translate(543.8,560.2) scale(1,1.06)">3</text>
<text transform="translate(492.9,590.3) scale(1,1.06)">2</text>
<text transform="translate(442.7,619.4) scale(1,1.06)">7</text>
<text transform="translate(387.0,652.3) scale(1,1.06)">6</text>
<text transform="translate(331.1,683.5) scale(1,1.06)">5</text>
</g>
<g fill="none" stroke="#000" stroke-width="1.3"><path d="M980.5,1428.5 V1410.5 H986 Q989,1410.5 989,1414.5 V1416 Q989,1419.5 986,1419.5 H980.5 M996,1410.5 L1000.5,1428.5 L1005,1410.5 M1013,1410.5 V1428.5 M1021.5,1410.5 L1013,1421 M1016,1417.5 L1022,1428.5 M1031.5,1413 L1034.5,1410.5 V1428.5 M1044,1414 Q1044,1410.5 1048,1410.5 Q1052,1410.5 1052,1414.5 Q1052,1417 1048,1420 L1044,1428.5 H1052 M1065.5,1410.5 Q1060.5,1410.5 1060.5,1419.5 Q1060.5,1428.5 1065.5,1428.5 Q1070.5,1428.5 1070.5,1419.5 Q1070.5,1410.5 1065.5,1410.5 Z M1078.5,1410.5 H1086.5 L1080.5,1428.5"/></g>
</svg>
<div class="bt"></div><div class="bl"></div><div class="br"></div><div class="bb"></div>
</div></body></html>
